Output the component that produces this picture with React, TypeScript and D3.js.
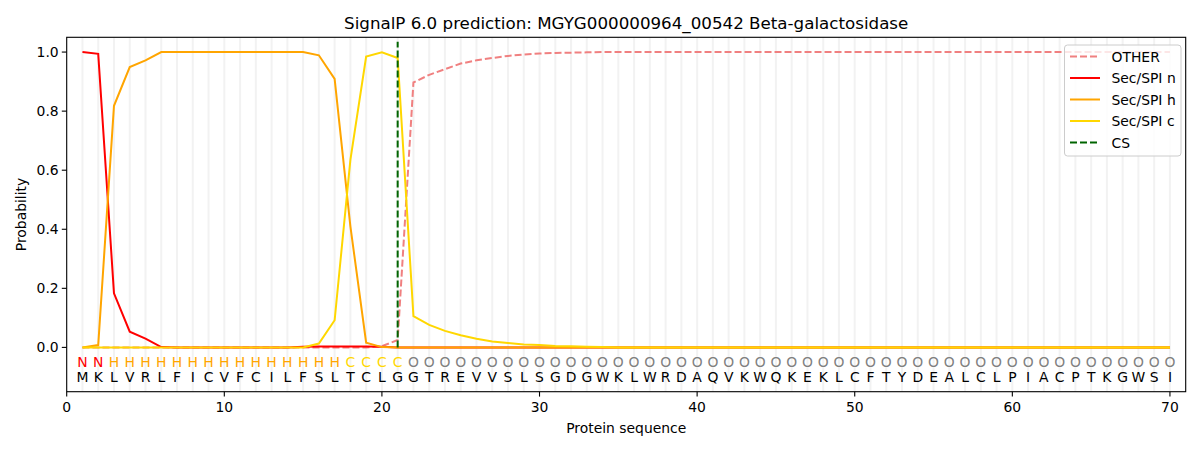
import * as d3 from 'd3';

const sequence = 'MKLVRLFICVFCILFSLTCLGGTREVVSLSGDGWKLWRDAQVKWQKEKLCFTYDEALCLPIACPTKGWSI'.split('');
const regionLabels = ('NN' + 'H'.repeat(15) + 'CCCC' + 'O'.repeat(49)).split('');

const otherProb = [
  0, 0, 0, 0, 0, 0, 0, 0, 0, 0, 0, 0, 0, 0, 0, 0, 0, 0, 0, 0.004,
  0.025, 0.897, 0.923, 0.942, 0.961, 0.972, 0.98, 0.987, 0.992, 0.995,
  0.997, 0.998, 0.999, 1, 1, 1, 1, 1, 1, 1, 1, 1, 1, 1, 1, 1, 1, 1, 1, 1,
  1, 1, 1, 1, 1, 1, 1, 1, 1, 1, 1, 1, 1, 1, 1, 1, 1, 1, 1, 1,
];
const secN = [
  1.0, 0.994, 0.183, 0.053, 0.03, 0.001, 0, 0, 0, 0, 0, 0, 0, 0, 0.002, 0.003,
  0.003, 0.003, 0.003, 0.002, 0, 0, 0, 0, 0, 0, 0, 0, 0, 0, 0, 0, 0, 0, 0, 0,
  0, 0, 0, 0, 0, 0, 0, 0, 0, 0, 0, 0, 0, 0, 0, 0, 0, 0, 0, 0, 0, 0, 0, 0, 0,
  0, 0, 0, 0, 0, 0, 0, 0, 0,
];
const secH = [
  0, 0.008, 0.818, 0.949, 0.972, 1, 1, 1, 1, 1, 1, 1, 1, 1, 1, 0.989, 0.909,
  0.41, 0.016, 0.001, 0, 0, 0, 0, 0, 0, 0, 0, 0, 0, 0, 0, 0, 0, 0, 0, 0, 0,
  0, 0, 0, 0, 0, 0, 0, 0, 0, 0, 0, 0, 0, 0, 0, 0, 0, 0, 0, 0, 0, 0, 0, 0, 0,
  0, 0, 0, 0, 0, 0, 0,
];
const secC = [
  0, 0, 0, 0, 0, 0, 0, 0, 0, 0, 0, 0, 0, 0, 0, 0.013, 0.092, 0.635, 0.985,
  0.999, 0.98, 0.106, 0.076, 0.056, 0.041, 0.029, 0.02, 0.0146, 0.01, 0.0078,
  0.005, 0.004, 0.002, 0.001, 0, 0, 0, 0, 0, 0, 0, 0, 0, 0, 0, 0, 0, 0, 0, 0,
  0, 0, 0, 0, 0, 0, 0, 0, 0, 0, 0, 0, 0, 0, 0, 0, 0, 0, 0, 0,
];
const cleavageSite = 21;

const xTicks = [0, 10, 20, 30, 40, 50, 60, 70];
const yTicks = [0, 0.2, 0.4, 0.6, 0.8, 1.0];

const labelColor: Record<string, string> = {
  N: 'red',
  H: 'orange',
  C: 'gold',
  O: 'gray',
};

const series = [
  { name: 'OTHER', values: otherProb, color: '#f08080', dash: '7,3' },
  { name: 'Sec/SPI n', values: secN, color: 'red', dash: '' },
  { name: 'Sec/SPI h', values: secH, color: 'orange', dash: '' },
  { name: 'Sec/SPI c', values: secC, color: 'gold', dash: '' },
];

const width = 1200;
const height = 450;
const margin = { top: 37.3, right: 14.3, bottom: 58.3, left: 66.7 };
const font = 'DejaVu Sans, sans-serif';

const App = () => {
  const x = d3.scaleLinear().domain([0, 71]).range([margin.left, width - margin.right]);
  const y = d3.scaleLinear().domain([-0.15, 1.05]).range([height - margin.bottom, margin.top]);
  const line = d3
    .line<number>()
    .x((_, i) => x(i + 1))
    .y((d) => y(d));

  const left = margin.left;
  const right = width - margin.right;
  const top = margin.top;
  const bottom = height - margin.bottom;

  const legendItems = [
    ...series.map((s) => ({ name: s.name, color: s.color, dash: s.dash })),
    { name: 'CS', color: 'darkgreen', dash: '7,3' },
  ];

  return (
    <svg width={width} height={height} style={{ display: 'block', margin: '-8px' }} fontFamily={font}>
      <rect width={width} height={height} fill="white" />
      {/* residue grid */}
      {sequence.map((_, i) => (
        <line key={'g' + i} x1={x(i + 1)} x2={x(i + 1)} y1={top} y2={bottom} stroke="#808080" strokeOpacity={0.1} strokeWidth={2} />
      ))}

      {series.map((s) => (
        <path key={s.name} d={line(s.values) || ''} fill="none" stroke={s.color} strokeWidth={2} strokeDasharray={s.dash || undefined} />
      ))}

      <line x1={x(cleavageSite)} x2={x(cleavageSite)} y1={y(0)} y2={y(1.035)} stroke="darkgreen" strokeWidth={2} strokeDasharray="7,3" />

      {/* region labels and residues, centred on their rows */}
      {regionLabels.map((l, i) => (
        <text key={'l' + i} x={x(i + 1)} y={y(-0.05) + 5} textAnchor="middle" fontSize={13.9} fill={labelColor[l]}>
          {l}
        </text>
      ))}
      {sequence.map((a, i) => (
        <text key={'s' + i} x={x(i + 1)} y={y(-0.1) + 5} textAnchor="middle" fontSize={13.9} fill="black">
          {a}
        </text>
      ))}

      {/* axes */}
      <rect x={left} y={top} width={right - left} height={bottom - top} fill="none" stroke="black" strokeWidth={1.1} />
      {xTicks.map((t) => (
        <g key={'xt' + t}>
          <line x1={x(t)} x2={x(t)} y1={bottom} y2={bottom + 4.9} stroke="black" strokeWidth={1.1} />
          <text x={x(t)} y={bottom + 20} textAnchor="middle" fontSize={13.9}>
            {t}
          </text>
        </g>
      ))}
      {yTicks.map((t) => (
        <g key={'yt' + t}>
          <line x1={left - 4.9} x2={left} y1={y(t)} y2={y(t)} stroke="black" strokeWidth={1.1} />
          <text x={left - 8} y={y(t) + 5} textAnchor="end" fontSize={13.9}>
            {t.toFixed(1)}
          </text>
        </g>
      ))}
      <text x={(left + right) / 2} y={433} textAnchor="middle" fontSize={13.9}>
        Protein sequence
      </text>
      <text transform={`translate(26,${(top + bottom) / 2}) rotate(-90)`} textAnchor="middle" fontSize={13.9}>
        Probability
      </text>
      <text x={(left + right) / 2} y={29} textAnchor="middle" fontSize={16.7}>
        SignalP 6.0 prediction: MGYG000000964_00542 Beta-galactosidase
      </text>

      {/* legend */}
      <rect x={1064.5} y={45} width={116.5} height={111} rx={3} fill="white" fillOpacity={0.8} stroke="#cccccc" />
      {legendItems.map((it, i) => (
        <g key={'lg' + i}>
          <line x1={1070} x2={1100} y1={56.5 + i * 21.5} y2={56.5 + i * 21.5} stroke={it.color} strokeWidth={2} strokeDasharray={it.dash || undefined} />
          <text x={1111.5} y={56.5 + i * 21.5 + 5} fontSize={13.9}>
            {it.name}
          </text>
        </g>
      ))}
    </svg>
  );
};

export default App;
